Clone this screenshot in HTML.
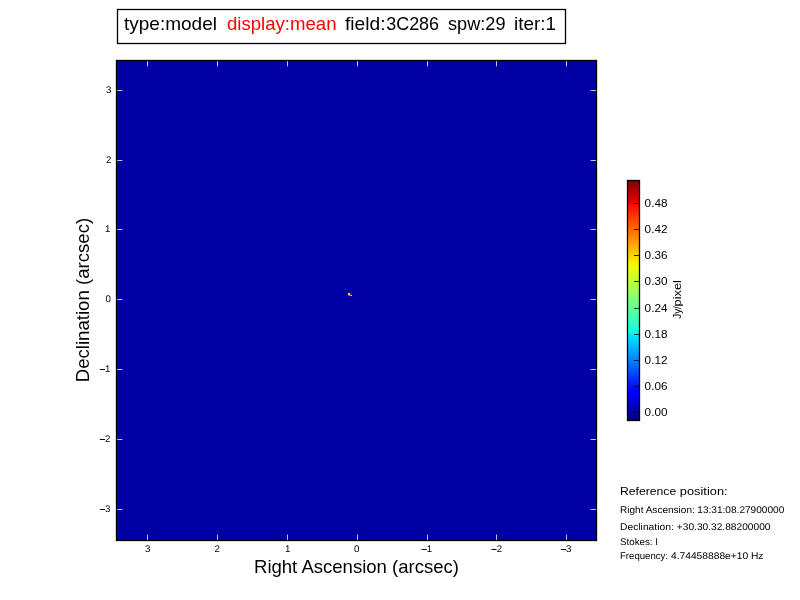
<!DOCTYPE html>
<html><head><meta charset="utf-8"><title>plot</title>
<style>
html,body{margin:0;padding:0;background:#fff;}
body{width:800px;height:600px;overflow:hidden;}
svg{display:block;will-change:transform;}
text{font-family:"Liberation Sans",sans-serif;}
</style></head><body>
<svg width="800" height="600" viewBox="0 0 800 600">
<defs><linearGradient id="jet" x1="0" y1="0" x2="0" y2="1"><stop offset="0.000" stop-color="#800000"/><stop offset="0.090" stop-color="#e80000"/><stop offset="0.110" stop-color="#ff1300"/><stop offset="0.340" stop-color="#ffec00"/><stop offset="0.350" stop-color="#f7f600"/><stop offset="0.360" stop-color="#efff08"/><stop offset="0.625" stop-color="#15ffe2"/><stop offset="0.650" stop-color="#00e5f7"/><stop offset="0.660" stop-color="#00dbff"/><stop offset="0.875" stop-color="#0000ff"/><stop offset="0.890" stop-color="#0000ff"/><stop offset="1.000" stop-color="#000080"/></linearGradient></defs>
<rect x="0" y="0" width="800" height="600" fill="#fff"/>
<rect x="116" y="60" width="481" height="481" fill="#0000a4"/>
<g shape-rendering="crispEdges">
<rect x="348" y="293" width="2" height="2" fill="#a4f45c"/>
<rect x="350" y="293" width="2" height="2" fill="#900000"/>
<rect x="348" y="295" width="2" height="1" fill="#ff3000"/>
<rect x="350" y="295" width="2" height="1" fill="#30f8f8"/>
<rect x="353" y="288" width="2" height="3" fill="#00008e"/>
<rect x="345" y="298" width="2" height="2" fill="#00008c"/>
<rect x="353" y="298" width="2" height="2" fill="#0000d4"/>
<rect x="147" y="61" width="1" height="5" fill="#c4c4ee"/>
<rect x="147" y="66" width="1" height="1" fill="#4a4abc"/>
<rect x="147" y="535" width="1" height="5" fill="#c4c4ee"/>
<rect x="147" y="534" width="1" height="1" fill="#4a4abc"/>
<rect x="217" y="61" width="1" height="5" fill="#c4c4ee"/>
<rect x="217" y="66" width="1" height="1" fill="#4a4abc"/>
<rect x="217" y="535" width="1" height="5" fill="#c4c4ee"/>
<rect x="217" y="534" width="1" height="1" fill="#4a4abc"/>
<rect x="287" y="61" width="1" height="5" fill="#c4c4ee"/>
<rect x="287" y="66" width="1" height="1" fill="#4a4abc"/>
<rect x="287" y="535" width="1" height="5" fill="#c4c4ee"/>
<rect x="287" y="534" width="1" height="1" fill="#4a4abc"/>
<rect x="357" y="61" width="1" height="5" fill="#c4c4ee"/>
<rect x="357" y="66" width="1" height="1" fill="#4a4abc"/>
<rect x="357" y="535" width="1" height="5" fill="#c4c4ee"/>
<rect x="357" y="534" width="1" height="1" fill="#4a4abc"/>
<rect x="427" y="61" width="1" height="5" fill="#c4c4ee"/>
<rect x="427" y="66" width="1" height="1" fill="#4a4abc"/>
<rect x="427" y="535" width="1" height="5" fill="#c4c4ee"/>
<rect x="427" y="534" width="1" height="1" fill="#4a4abc"/>
<rect x="496" y="61" width="1" height="5" fill="#c4c4ee"/>
<rect x="496" y="66" width="1" height="1" fill="#4a4abc"/>
<rect x="496" y="535" width="1" height="5" fill="#c4c4ee"/>
<rect x="496" y="534" width="1" height="1" fill="#4a4abc"/>
<rect x="566" y="61" width="1" height="5" fill="#c4c4ee"/>
<rect x="566" y="66" width="1" height="1" fill="#4a4abc"/>
<rect x="566" y="535" width="1" height="5" fill="#c4c4ee"/>
<rect x="566" y="534" width="1" height="1" fill="#4a4abc"/>
<rect x="117" y="90" width="5" height="1" fill="#c4c4ee"/>
<rect x="122" y="90" width="1" height="1" fill="#4a4abc"/>
<rect x="591" y="90" width="5" height="1" fill="#c4c4ee"/>
<rect x="590" y="90" width="1" height="1" fill="#4a4abc"/>
<rect x="117" y="160" width="5" height="1" fill="#c4c4ee"/>
<rect x="122" y="160" width="1" height="1" fill="#4a4abc"/>
<rect x="591" y="160" width="5" height="1" fill="#c4c4ee"/>
<rect x="590" y="160" width="1" height="1" fill="#4a4abc"/>
<rect x="117" y="229" width="5" height="1" fill="#c4c4ee"/>
<rect x="122" y="229" width="1" height="1" fill="#4a4abc"/>
<rect x="591" y="229" width="5" height="1" fill="#c4c4ee"/>
<rect x="590" y="229" width="1" height="1" fill="#4a4abc"/>
<rect x="117" y="299" width="5" height="1" fill="#c4c4ee"/>
<rect x="122" y="299" width="1" height="1" fill="#4a4abc"/>
<rect x="591" y="299" width="5" height="1" fill="#c4c4ee"/>
<rect x="590" y="299" width="1" height="1" fill="#4a4abc"/>
<rect x="117" y="369" width="5" height="1" fill="#c4c4ee"/>
<rect x="122" y="369" width="1" height="1" fill="#4a4abc"/>
<rect x="591" y="369" width="5" height="1" fill="#c4c4ee"/>
<rect x="590" y="369" width="1" height="1" fill="#4a4abc"/>
<rect x="117" y="439" width="5" height="1" fill="#c4c4ee"/>
<rect x="122" y="439" width="1" height="1" fill="#4a4abc"/>
<rect x="591" y="439" width="5" height="1" fill="#c4c4ee"/>
<rect x="590" y="439" width="1" height="1" fill="#4a4abc"/>
<rect x="117" y="509" width="5" height="1" fill="#c4c4ee"/>
<rect x="122" y="509" width="1" height="1" fill="#4a4abc"/>
<rect x="591" y="509" width="5" height="1" fill="#c4c4ee"/>
<rect x="590" y="509" width="1" height="1" fill="#4a4abc"/>
</g>
<rect x="116.5" y="60.5" width="480" height="480" fill="none" stroke="#000" stroke-width="1.3"/>
<g text-rendering="geometricPrecision">
<text x="147.6" y="552.0" font-size="9.7" text-anchor="middle">3</text>
<text x="217.3" y="552.0" font-size="9.7" text-anchor="middle">2</text>
<text x="287.6" y="552.0" font-size="9.7" text-anchor="middle">1</text>
<text x="356.6" y="552.0" font-size="9.7" text-anchor="middle">0</text>
<rect x="421.55" y="549.00" width="5.2" height="0.95" fill="#000"/>
<text x="432.20" y="552.0" font-size="9.7" text-anchor="end">1</text>
<rect x="491.45" y="549.00" width="5.2" height="0.95" fill="#000"/>
<text x="502.10" y="552.0" font-size="9.7" text-anchor="end">2</text>
<rect x="560.85" y="549.00" width="5.2" height="0.95" fill="#000"/>
<text x="571.50" y="552.0" font-size="9.7" text-anchor="end">3</text>
<text x="111.3" y="93.0" font-size="9.7" text-anchor="end">3</text>
<text x="111.3" y="163.0" font-size="9.7" text-anchor="end">2</text>
<text x="110.39999999999999" y="232.0" font-size="9.7" text-anchor="end">1</text>
<text x="110.89999999999999" y="302.0" font-size="9.7" text-anchor="end">0</text>
<rect x="99.80" y="369.00" width="5.2" height="0.95" fill="#000"/>
<text x="110.40" y="372.0" font-size="9.7" text-anchor="end">1</text>
<rect x="99.80" y="439.00" width="5.2" height="0.95" fill="#000"/>
<text x="110.40" y="442.0" font-size="9.7" text-anchor="end">2</text>
<rect x="99.80" y="509.00" width="5.2" height="0.95" fill="#000"/>
<text x="110.40" y="512.0" font-size="9.7" text-anchor="end">3</text>
</g>
<text x="254" y="572.5" font-size="18.6" textLength="205" lengthAdjust="spacingAndGlyphs" fill="#000">Right Ascension (arcsec)</text>
<text x="88.9" y="382.3" font-size="18.6" textLength="164.5" lengthAdjust="spacingAndGlyphs" transform="rotate(-90 88.9 382.3)" fill="#000">Declination (arcsec)</text>
<rect x="117.5" y="9.5" width="448" height="34" fill="#fff" stroke="#000" stroke-width="1.3"/>
<text x="124" y="29.8" font-size="18.6" textLength="93" lengthAdjust="spacingAndGlyphs" fill="#000">type:model</text>
<text x="227" y="29.8" font-size="18.6" textLength="109.5" lengthAdjust="spacingAndGlyphs" fill="#ff0000">display:mean</text>
<text x="345" y="29.8" font-size="18.6" textLength="40.5" lengthAdjust="spacingAndGlyphs" fill="#000">field:</text>
<text x="386.2" y="29.8" font-size="18.6" textLength="52.9" lengthAdjust="spacingAndGlyphs" fill="#000">3C286</text>
<text x="448" y="29.8" font-size="18.6" textLength="57.5" lengthAdjust="spacingAndGlyphs" fill="#000">spw:29</text>
<text x="514.1" y="29.8" font-size="18.6" textLength="42" lengthAdjust="spacingAndGlyphs" fill="#000">iter:1</text>
<rect x="627.5" y="180.5" width="12" height="240" fill="url(#jet)" stroke="#000" stroke-width="1.3"/>
<rect x="633.5" y="412" width="5.5" height="1" fill="#000" fill-opacity="0.8" shape-rendering="crispEdges"/>
<text x="644.6" y="415.7" font-size="11.6" textLength="22.9" lengthAdjust="spacingAndGlyphs">0.00</text>
<rect x="633.5" y="386" width="5.5" height="1" fill="#000" fill-opacity="0.8" shape-rendering="crispEdges"/>
<text x="644.6" y="389.7" font-size="11.6" textLength="22.9" lengthAdjust="spacingAndGlyphs">0.06</text>
<rect x="633.5" y="360" width="5.5" height="1" fill="#000" fill-opacity="0.8" shape-rendering="crispEdges"/>
<text x="644.6" y="363.7" font-size="11.6" textLength="22.9" lengthAdjust="spacingAndGlyphs">0.12</text>
<rect x="633.5" y="334" width="5.5" height="1" fill="#000" fill-opacity="0.8" shape-rendering="crispEdges"/>
<text x="644.6" y="337.7" font-size="11.6" textLength="22.9" lengthAdjust="spacingAndGlyphs">0.18</text>
<rect x="633.5" y="308" width="5.5" height="1" fill="#000" fill-opacity="0.8" shape-rendering="crispEdges"/>
<text x="644.6" y="311.7" font-size="11.6" textLength="22.9" lengthAdjust="spacingAndGlyphs">0.24</text>
<rect x="633.5" y="281" width="5.5" height="1" fill="#000" fill-opacity="0.8" shape-rendering="crispEdges"/>
<text x="644.6" y="284.7" font-size="11.6" textLength="22.9" lengthAdjust="spacingAndGlyphs">0.30</text>
<rect x="633.5" y="255" width="5.5" height="1" fill="#000" fill-opacity="0.8" shape-rendering="crispEdges"/>
<text x="644.6" y="258.7" font-size="11.6" textLength="22.9" lengthAdjust="spacingAndGlyphs">0.36</text>
<rect x="633.5" y="229" width="5.5" height="1" fill="#000" fill-opacity="0.8" shape-rendering="crispEdges"/>
<text x="644.6" y="232.7" font-size="11.6" textLength="22.9" lengthAdjust="spacingAndGlyphs">0.42</text>
<rect x="633.5" y="203" width="5.5" height="1" fill="#000" fill-opacity="0.8" shape-rendering="crispEdges"/>
<text x="644.6" y="206.7" font-size="11.6" textLength="22.9" lengthAdjust="spacingAndGlyphs">0.48</text>
<text x="681" y="318.8" font-size="11.6" textLength="12.6" lengthAdjust="spacingAndGlyphs" transform="rotate(-90 681 318.8)" fill="#000">Jy/</text>
<text x="681" y="306.5" font-size="11.6" textLength="26.4" lengthAdjust="spacingAndGlyphs" transform="rotate(-90 681 306.5)" fill="#000">pixel</text>
<text x="620.0" y="495" font-size="11.7" textLength="56.2" lengthAdjust="spacingAndGlyphs" fill="#000">Reference</text>
<text x="679.8" y="495" font-size="11.7" textLength="47.8" lengthAdjust="spacingAndGlyphs" fill="#000">position:</text>
<g text-rendering="geometricPrecision">
<text x="620.0" y="512.8" font-size="9.7" textLength="74.8" lengthAdjust="spacingAndGlyphs" fill="#000">Right Ascension:</text>
<text x="697.3" y="512.8" font-size="9.7" textLength="87.0" lengthAdjust="spacingAndGlyphs" fill="#000">13:31:08.27900000</text>
<text x="620.0" y="529.7" font-size="9.7" textLength="53.8" lengthAdjust="spacingAndGlyphs" fill="#000">Declination:</text>
<text x="676.8" y="529.7" font-size="9.7" textLength="93.7" lengthAdjust="spacingAndGlyphs" fill="#000">+30.30.32.88200000</text>
<text x="620" y="544.8" font-size="9.7" textLength="38" lengthAdjust="spacingAndGlyphs" fill="#000">Stokes: I</text>
<text x="620.0" y="558.7" font-size="9.7" textLength="48.0" lengthAdjust="spacingAndGlyphs" fill="#000">Frequency:</text>
<text x="671.0" y="558.7" font-size="9.7" textLength="92.5" lengthAdjust="spacingAndGlyphs" fill="#000">4.74458888e+10 Hz</text>
</g>
</svg>
</body></html>
